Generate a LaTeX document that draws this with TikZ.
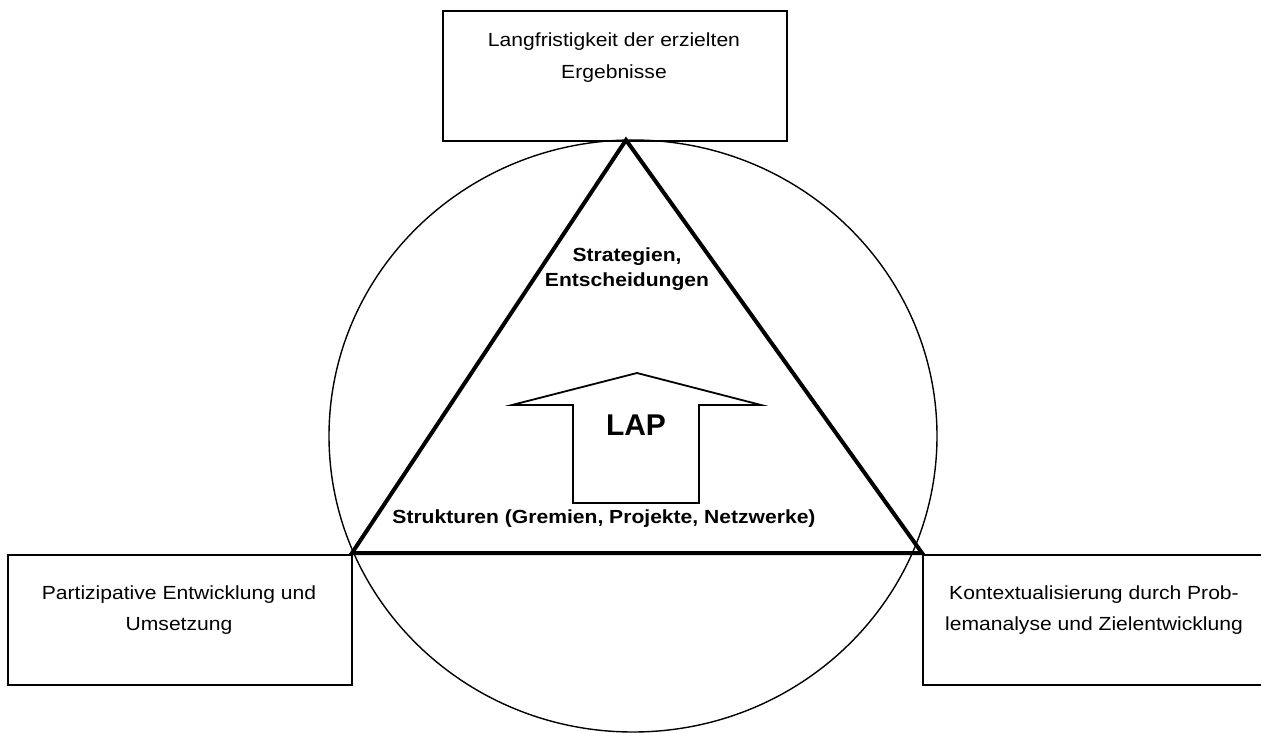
\documentclass[tikz,border=0pt]{standalone}
\usepackage{fontspec}
\setmainfont{Liberation Sans}[FakeStretch=1.11]
\newfontfamily\lapfont{Liberation Sans}
\begin{document}
\begin{tikzpicture}[x=1pt,y=-1pt,
  box/.style={draw, line width=1.6pt, minimum width=344pt, minimum height=130pt, inner sep=0pt, anchor=north west},
  lbl/.style={align=center, inner sep=0pt, anchor=north, font=\fontsize{19}{31.5}\selectfont},
  blbl/.style={align=center, inner sep=0pt, anchor=north, font=\fontsize{19}{24.5}\selectfont\bfseries},
  tri/.style={line width=4pt, line join=miter},
  ring/.style={line width=1.4pt},
  arr/.style={line width=1.8pt, fill=white, line join=miter}]
\useasboundingbox (0,0) rectangle (1261,733);
\clip (0,0) rectangle (1261,733);
% boxes
\node[box] (top) at (442,10) {};
\node[box] (left) at (7,554) {};
\node[box] (right) at (922,554) {};
% circle
\draw[ring] (633,436) ellipse [x radius=304, y radius=296];
% triangle
\coordinate (A) at (626,140);
\coordinate (B) at (352,553);
\coordinate (C) at (922,553);
\draw[tri] (A) -- (B) -- (C) -- cycle;
% arrow
\draw[arr] (637,373) -- (761,405) -- (699,405) -- (699,503) -- (573,503) -- (573,405) -- (512,405) -- cycle;
% texts
\node[lbl] (ttop) at (614,33) {Langfristigkeit der erzielten\\Ergebnisse};
\node[lbl] (tleft) at (179,585.5) {Partizipative Entwicklung und\\Umsetzung};
\node[lbl] (tright) at (1094,585.5) {Kontextualisierung durch Prob-\\lemanalyse und Zielentwicklung};
\node[blbl] (strat) at (627,248) {Strategien,\\Entscheidungen};
\node[blbl] (struk) at (604,510) {Strukturen (Gremien, Projekte, Netzwerke)};
\node[font=\lapfont\fontsize{30}{36}\selectfont\bfseries, anchor=base, inner sep=0pt] (lap) at (636,435) {LAP};
\end{tikzpicture}
\end{document}
